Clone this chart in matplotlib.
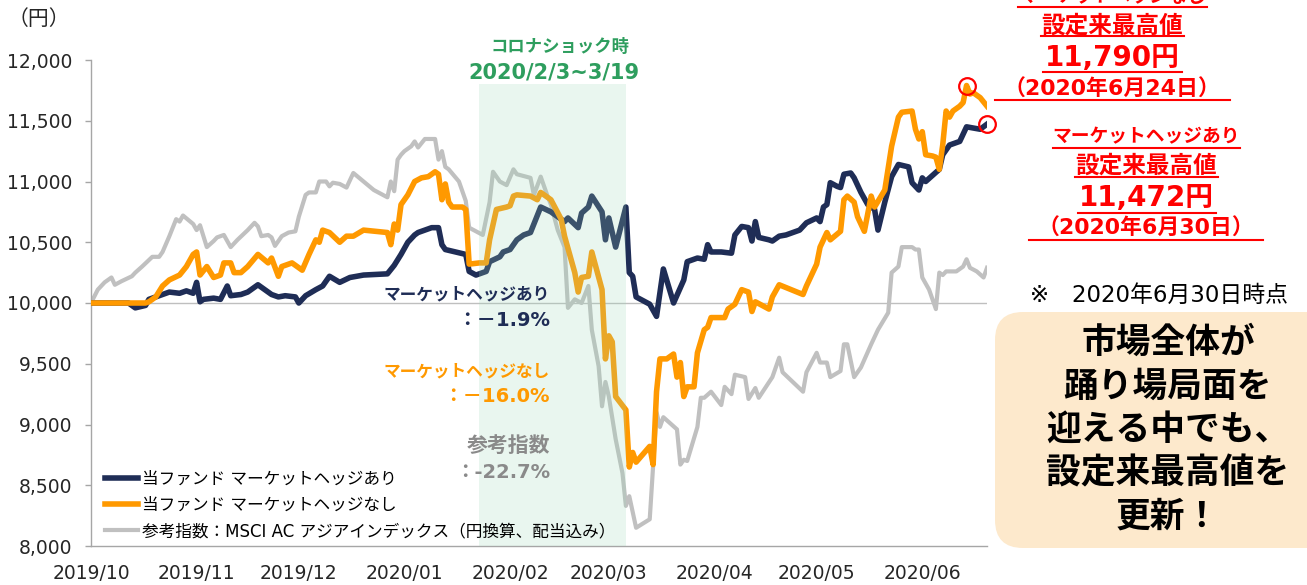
import matplotlib
matplotlib.use("Agg")
import matplotlib.pyplot as plt
import matplotlib.dates as mdates
from matplotlib.lines import Line2D
from matplotlib.patches import FancyBboxPatch
from matplotlib.transforms import IdentityTransform
from matplotlib.ticker import FixedLocator, FuncFormatter
import pandas as pd

plt.rcParams['font.family'] = ['DejaVu Sans', 'Noto Sans CJK JP']

# ---------------- data ----------------
START = "2019-10-11"          # first day of the series (base value 10,000)
END = "2020-06-30"

# days since START, value (yen)
navy_days = [0, 11, 13, 16, 17, 20, 23, 26, 28, 30, 31, 32, 33, 36, 38, 40, 41, 44, 46, 49,
             51, 53, 55, 57, 60, 61, 63, 66, 68, 70, 73, 76, 80, 87, 89, 91, 93, 95, 96, 98,
             100, 102, 103, 104, 107, 110, 111, 113, 116, 117, 120, 121, 123, 125, 127, 129, 132, 135, 139, 140,
             143, 144, 146, 147, 150, 151, 152, 154, 157, 158, 159, 160, 164, 166, 168, 171, 174, 175, 178, 180,
             181, 182, 185, 188, 189, 191, 193, 194, 195, 196, 199, 200, 202, 204, 208, 210, 213, 214, 215, 216,
             217, 219, 220, 221, 223, 224, 226, 228, 230, 231, 233, 235, 237, 240, 241, 243, 244, 245, 247, 249,
             250, 252, 255, 257, 259, 261, 263]
navy_vals = [10000, 10000, 9960, 9980, 10030, 10060, 10090, 10080, 10100, 10080, 10170, 10010, 10030, 10040, 10030, 10140, 10060, 10070, 10090, 10150,
             10110, 10070, 10050, 10060, 10050, 10000, 10060, 10110, 10140, 10220, 10170, 10210, 10230, 10240, 10310, 10400, 10500, 10560, 10580, 10600,
             10620, 10620, 10480, 10440, 10420, 10400, 10260, 10230, 10260, 10340, 10380, 10420, 10440, 10520, 10560, 10580, 10790, 10750, 10670, 10700,
             10620, 10740, 10790, 10880, 10750, 10520, 10700, 10460, 10790, 10250, 10220, 10050, 9990, 9890, 10280, 10000, 10190, 10340, 10370, 10360,
             10480, 10420, 10420, 10410, 10560, 10630, 10620, 10510, 10670, 10540, 10520, 10510, 10550, 10560, 10600, 10660, 10700, 10670, 10790, 10810,
             10990, 10960, 10950, 11060, 11070, 11030, 10910, 10810, 10770, 10600, 10830, 11040, 11140, 11120, 10990, 10930, 11030, 11000, 11050, 11100,
             11220, 11300, 11330, 11450, 11440, 11430, 11472]

orange_days = [0, 16, 17, 19, 21, 23, 26, 28, 30, 31, 32, 34, 36, 38, 39, 41, 42, 44, 46, 49,
               52, 53, 55, 56, 59, 62, 64, 66, 67, 68, 70, 73, 75, 77, 80, 87, 88, 89, 90, 91,
               93, 95, 97, 99, 101, 102, 103, 104, 105, 106, 109, 110, 111, 114, 116, 117, 119, 122, 123, 124,
               125, 129, 131, 132, 135, 138, 139, 142, 143, 144, 146, 147, 150, 151, 152, 153, 154, 157, 158, 159,
               160, 164, 165, 166, 167, 169, 171, 172, 173, 174, 175, 177, 178, 180, 181, 182, 186, 187, 189, 191,
               193, 194, 195, 199, 200, 202, 209, 210, 213, 214, 216, 217, 220, 221, 222, 224, 225, 227, 229, 230,
               233, 235, 237, 238, 241, 242, 243, 244, 245, 247, 248, 249, 250, 251, 252, 253, 255, 256, 257, 258,
               259, 261, 263]
orange_vals = [10000, 10000, 10010, 10050, 10140, 10190, 10230, 10300, 10400, 10420, 10230, 10300, 10210, 10230, 10330, 10330, 10250, 10250, 10300, 10400,
               10330, 10370, 10220, 10300, 10330, 10270, 10400, 10520, 10500, 10600, 10580, 10500, 10550, 10550, 10600, 10580, 10480, 10650, 10600, 10810,
               10890, 11000, 11030, 11040, 11080, 11060, 10850, 10980, 10830, 10790, 10790, 10770, 10320, 10330, 10330, 10520, 10770, 10790, 10800, 10880,
               10890, 10880, 10850, 10910, 10850, 10690, 10550, 10250, 10090, 10210, 10220, 10420, 10110, 9540, 9730, 9680, 9230, 9120, 8650, 8770,
               8690, 8820, 8670, 9270, 9540, 9540, 9580, 9390, 9510, 9230, 9310, 9310, 9590, 9780, 9800, 9880, 9880, 9950, 9990, 10110,
               10090, 9930, 10010, 9950, 10050, 10150, 10070, 10140, 10320, 10460, 10580, 10520, 10590, 10850, 10880, 10830, 10710, 10590, 10880, 10790,
               10930, 11290, 11530, 11570, 11580, 11430, 11350, 11410, 11220, 11210, 11200, 11100, 11300, 11580, 11530, 11580, 11620, 11650, 11790, 11720,
               11730, 11690, 11620]

gray_days = [0, 2, 4, 6, 7, 9, 12, 13, 15, 18, 20, 21, 23, 25, 26, 27, 30, 31, 32, 34,
             36, 37, 39, 41, 43, 46, 48, 49, 50, 52, 53, 54, 56, 58, 60, 61, 63, 64, 66, 67,
             69, 70, 71, 73, 75, 77, 83, 87, 88, 89, 90, 91, 92, 94, 95, 96, 98, 99, 101, 102,
             103, 104, 105, 108, 109, 110, 111, 113, 115, 117, 118, 120, 122, 124, 125, 129, 130, 132, 134, 135,
             137, 139, 140, 142, 144, 146, 147, 149, 150, 151, 152, 154, 156, 157, 158, 160, 164, 166, 167, 168,
             172, 173, 174, 175, 178, 179, 180, 182, 185, 186, 188, 189, 192, 193, 195, 196, 200, 202, 203, 209,
             210, 213, 214, 216, 217, 220, 221, 222, 224, 226, 229, 231, 234, 235, 237, 238, 241, 242, 243, 244,
             246, 248, 249, 250, 251, 254, 256, 257, 258, 260, 262, 263]
gray_vals = [10000, 10110, 10170, 10210, 10150, 10180, 10220, 10250, 10300, 10380, 10380, 10420, 10550, 10690, 10670, 10720, 10650, 10600, 10640, 10460,
             10510, 10540, 10560, 10460, 10520, 10600, 10660, 10630, 10550, 10560, 10540, 10470, 10550, 10580, 10590, 10710, 10890, 10910, 10910, 11000,
             11000, 10960, 10990, 10980, 10950, 11070, 10930, 10870, 11000, 10920, 11180, 11220, 11250, 11290, 11330, 11280, 11350, 11350, 11350, 11180,
             11250, 11120, 11100, 11000, 10920, 10840, 10620, 10590, 10560, 10830, 11080, 11000, 10970, 11100, 11060, 11030, 10890, 11040, 10880, 10810,
             10600, 10460, 9960, 10030, 10000, 10140, 9780, 9480, 9150, 9350, 9230, 8880, 8600, 8330, 8410, 8150, 8220, 9100, 8980, 9060,
             8960, 8670, 8710, 8700, 8980, 9220, 9220, 9270, 9160, 9310, 9250, 9410, 9390, 9210, 9300, 9220, 9390, 9550, 9430, 9270,
             9430, 9590, 9510, 9510, 9390, 9440, 9660, 9660, 9390, 9470, 9660, 9780, 9920, 10250, 10300, 10460, 10460, 10440, 10440, 10210,
             10110, 9950, 10250, 10230, 10260, 10260, 10300, 10360, 10290, 10260, 10210, 10290]

legend_labels = ["当ファンド マーケットヘッジあり",
                 "当ファンド マーケットヘッジなし",
                 "参考指数：MSCI AC アジアインデックス（円換算、配当込み）"]
y_ticks = [8000, 8500, 9000, 9500, 10000, 10500, 11000, 11500, 12000]
shade_start, shade_end = "2020-02-02", "2020-03-16"
peak_orange = ("2020-06-24", 11790)
peak_navy = ("2020-06-30", 11472)

# ---------------- style ----------------
NAVY = "#1f2d56"
ORANGE = "#ff9900"
GRAY = "#c0c0c0"
GREEN = "#2e9e5e"
RED = "#ff0000"

W, H = 1307, 585
fig = plt.figure(figsize=(W / 100, H / 100), dpi=100)
ax = fig.add_axes([91 / W, 1 - 546 / H, (987 - 91) / W, (546 - 60) / H])

start = pd.Timestamp(START)
def to_dates(days):
    return start + pd.to_timedelta(days, unit="D")

ax.plot(to_dates(gray_days), gray_vals, color=GRAY, lw=3.0, zorder=2,
        solid_joinstyle="round", label=legend_labels[2])
ax.plot(to_dates(navy_days), navy_vals, color=NAVY, lw=4.0, zorder=3,
        solid_joinstyle="round", label=legend_labels[0])
ax.plot(to_dates(orange_days), orange_vals, color=ORANGE, lw=4.0, zorder=4,
        solid_joinstyle="round", label=legend_labels[1])

ax.axhline(10000, color="#bfbfbf", lw=1.0, zorder=1.5)

ax.fill_between([pd.Timestamp(shade_start), pd.Timestamp(shade_end)], 8000, 11800,
                color="#9fd9b8", alpha=0.22, lw=0, zorder=5)

for (d, v) in (peak_orange, peak_navy):
    ax.plot([pd.Timestamp(d)], [v], marker="o", ms=12, mfc="none", mec=RED,
            mew=1.6, zorder=8, clip_on=False)

ax.set_xlim(start, pd.Timestamp(END))
ax.set_ylim(8000, 12000)
ax.yaxis.set_major_locator(FixedLocator(y_ticks))
ax.yaxis.set_major_formatter(FuncFormatter(lambda v, p: f"{int(v):,}"))
ax.xaxis.set_major_locator(mdates.MonthLocator(bymonthday=11))
ax.xaxis.set_major_formatter(mdates.DateFormatter("%Y/%m"))

for s in ("top", "right"):
    ax.spines[s].set_visible(False)
for s in ("left", "bottom"):
    ax.spines[s].set_color("#a6a6a6")
    ax.spines[s].set_linewidth(1.0)
ax.tick_params(axis="y", length=4.5, width=1.0, color="#a6a6a6", pad=9,
               labelsize=13.5, labelcolor="#262626")
ax.tick_params(axis="x", length=0, pad=13, labelsize=13.5, labelcolor="#262626")

handles, labels = ax.get_legend_handles_labels()
order = [1, 2, 0]
leg = ax.legend([handles[i] for i in order], [labels[i] for i in order],
                loc="lower left", bbox_to_anchor=(0.0156, 0.012), frameon=False,
                fontsize=12, handlelength=2.0, handletextpad=0.25,
                labelspacing=0.5, borderpad=0, borderaxespad=0)
leg.set_zorder(10)

def fx(x):
    return x / W
def fy(y):
    return 1 - y / H

# unit label
fig.text(fx(8), fy(19), "（円）", fontsize=15, color="#262626", ha="left", va="center")

# corona shock label
fig.text(fx(560), fy(47), "コロナショック時", fontsize=12.5, color=GREEN, weight="bold",
         ha="center", va="center")
fig.text(fx(554), fy(73), "2020/2/3~3/19", fontsize=15, color=GREEN, weight="bold",
         ha="center", va="center")

# performance labels
perf = [("マーケットヘッジあり", 12, NAVY, 294), ("：－1.9%", 14, NAVY, 320),
        ("マーケットヘッジなし", 12, ORANGE, 371), ("：－16.0%", 14, ORANGE, 396),
        ("参考指数", 15, "#8a8a8a", 446), ("：-22.7%", 14, "#8a8a8a", 473)]
for txt, fs, col, y in perf:
    fig.text(fx(550), fy(y), txt, fontsize=fs, color=col, weight="bold",
             ha="right", va="center", zorder=12)

# record-high callouts (red, underlined)
callouts = [
    ("マーケットヘッジなし", 13.5, 1112, -4, 1018, 1207, 7),
    ("設定来最高値", 17, 1112, 26, 1041, 1184, 36),
    ("11,790円", 20, 1112, 58, 1043, 1182, 72),
    ("（2020年6月24日）", 15.8, 1112, 89, 995, 1230, 100),
    ("マーケットヘッジあり", 13.5, 1146, 137, 1053, 1240, 148),
    ("設定来最高値", 17, 1146, 166, 1075, 1218, 177),
    ("11,472円", 20, 1146, 198, 1078, 1216, 213),
    ("（2020年6月30日）", 15.8, 1146, 228, 1029, 1263, 240),
]
for txt, fs, xc, yc, x0, x1, yu in callouts:
    fig.text(fx(xc), fy(yc), txt, fontsize=fs, color=RED, weight="bold",
             ha="center", va="center")
    fig.add_artist(Line2D([fx(x0), fx(x1)], [fy(yu), fy(yu)], color=RED, lw=1.5))

fig.text(fx(1030), fy(295), "※　2020年6月30日時点", fontsize=16.5, color="#000000",
         ha="left", va="center")

# message box
box = FancyBboxPatch((995, H - 548), 360, 236,
                     boxstyle="round,pad=0,rounding_size=28",
                     transform=IdentityTransform(), facecolor="#fde9cc",
                     edgecolor="none", zorder=0)
fig.add_artist(box)
msg = ["市場全体が", "踊り場局面を", "迎える中でも、", "設定来最高値を", "更新！"]
for i, line in enumerate(msg):
    fig.text(fx(1168), fy(343 + i * 43.5), line, fontsize=25, color="#000000",
             weight="bold", ha="center", va="center")

fig.savefig("out.png", dpi=100)
